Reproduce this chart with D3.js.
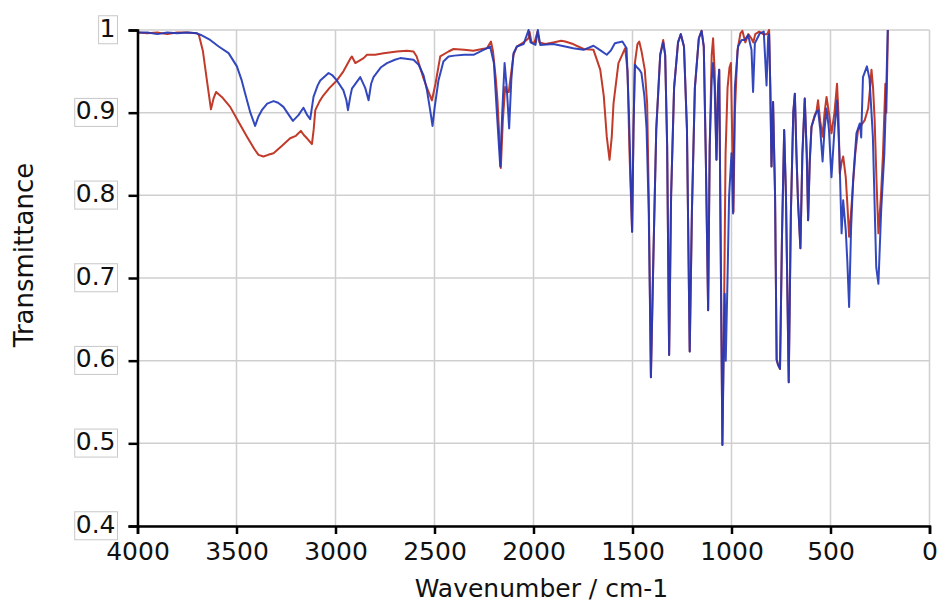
<!DOCTYPE html>
<html lang="en">
  <head>
    <meta charset="utf-8">
    <title>IR spectrum</title>
    <script src="https://d3js.org/d3.v7.min.js"></script>
    <style>
      body { margin: 0; background: #fff; }
      text { font-family: "DejaVu Sans", sans-serif; fill: #111; }
    </style>
  </head>
  <body>
    <script>
      var width = 942;
      var height = 606;
      var margin = {top: 30, left: 137.5, right: 12.5, bottom: 80};

      var xTicks = [4000, 3500, 3000, 2500, 2000, 1500, 1000, 500, 0];
      var yTicks = [0.4, 0.5, 0.6, 0.7, 0.8, 0.9, 1];

      // [wavenumber, transmittance]
      var redSpectrum = [
        [4000,0.997],[3950,0.996],[3900,0.997],[3850,0.995],[3800,0.997],[3750,0.997],[3700,0.996],
        [3690,0.994],[3670,0.975],[3650,0.94],[3629,0.904],[3615,0.918],[3603,0.925],[3570,0.918],
        [3532,0.907],[3490,0.889],[3447,0.871],[3410,0.856],[3389,0.849],[3364,0.847],[3340,0.849],
        [3313,0.851],[3270,0.860],[3229,0.869],[3200,0.872],[3175,0.878],[3160,0.873],[3144,0.869],
        [3119,0.862],[3110,0.880],[3102,0.903],[3080,0.914],[3061,0.921],[3030,0.930],[2993,0.939],
        [2960,0.950],[2926,0.965],[2917,0.968],[2900,0.960],[2858,0.966],[2841,0.970],[2800,0.970],
        [2757,0.972],[2690,0.974],[2640,0.975],[2606,0.974],[2590,0.968],[2555,0.941],[2530,0.925],
        [2513,0.915],[2495,0.935],[2471,0.968],[2429,0.974],[2404,0.977],[2350,0.976],[2303,0.975],
        [2260,0.977],[2235,0.978],[2215,0.986],[2205,0.975],[2190,0.940],[2182,0.915],[2165,0.833],
        [2155,0.890],[2143,0.931],[2135,0.925],[2125,0.925],[2101,0.970],[2084,0.980],[2050,0.985],
        [2025,0.990],[2020,0.998],[2010,0.985],[1995,0.985],[1980,0.998],[1970,0.985],[1940,0.983],
        [1900,0.985],[1860,0.987],[1840,0.986],[1800,0.983],[1747,0.977],[1697,0.976],[1663,0.952],
        [1645,0.920],[1630,0.871],[1616,0.843],[1605,0.870],[1596,0.911],[1571,0.960],[1537,0.978],
        [1525,0.950],[1515,0.850],[1502,0.756],[1495,0.880],[1488,0.960],[1475,0.983],[1466,0.986],
        [1455,0.975],[1438,0.952],[1426,0.911],[1418,0.800],[1407,0.580],[1395,0.720],[1380,0.880],
        [1360,0.970],[1345,0.988],[1335,0.970],[1325,0.860],[1315,0.607],[1305,0.800],[1290,0.930],
        [1270,0.985],[1256,0.995],[1240,0.980],[1225,0.880],[1211,0.611],[1200,0.780],[1185,0.930],
        [1165,0.990],[1151,0.999],[1140,0.980],[1130,0.850],[1118,0.661],[1110,0.860],[1100,0.970],
        [1093,0.990],[1085,0.950],[1076,0.843],[1068,0.930],[1062,0.952],[1055,0.750],[1046,0.498],
        [1038,0.650],[1030,0.850],[1020,0.930],[1010,0.955],[1003,0.960],[995,0.850],[990,0.780],
        [983,0.900],[970,0.975],[955,0.996],[945,0.999],[930,0.985],[915,0.995],[900,0.990],
        [890,0.985],[880,0.995],[860,0.998],[840,0.995],[820,0.995],[810,1.0],[804,0.930],
        [798,0.835],[790,0.913],[780,0.800],[772,0.601],[765,0.595],[755,0.590],[745,0.750],
        [734,0.879],[725,0.800],[711,0.574],[700,0.780],[688,0.900],[680,0.923],[672,0.850],
        [664,0.792],[652,0.736],[642,0.850],[630,0.917],[620,0.850],[613,0.770],[605,0.840],
        [596,0.883],[580,0.897],[571,0.901],[563,0.915],[552,0.890],[540,0.871],[530,0.900],
        [520,0.919],[508,0.900],[495,0.875],[480,0.900],[467,0.935],[460,0.900],[453,0.826],
        [444,0.840],[436,0.847],[423,0.822],[415,0.790],[406,0.750],[396,0.780],[386,0.814],
        [375,0.850],[361,0.879],[345,0.885],[327,0.891],[310,0.905],[300,0.930],[293,0.952],
        [285,0.930],[277,0.891],[268,0.820],[258,0.754],[245,0.800],[235,0.850],[223,0.935],
        [218,0.900],[213,0.960],[210,1.0]
      ];

      var blueSpectrum = [
        [4000,0.997],[3950,0.997],[3900,0.995],[3850,0.997],[3800,0.996],[3750,0.997],[3700,0.996],
        [3680,0.994],[3633,0.988],[3590,0.980],[3540,0.972],[3498,0.956],[3475,0.940],[3456,0.923],
        [3430,0.900],[3406,0.884],[3390,0.895],[3372,0.903],[3345,0.911],[3313,0.914],[3290,0.912],
        [3263,0.907],[3235,0.897],[3215,0.890],[3187,0.897],[3162,0.906],[3145,0.898],[3128,0.892],
        [3111,0.919],[3090,0.933],[3077,0.939],[3035,0.948],[3015,0.945],[2993,0.939],[2960,0.927],
        [2945,0.915],[2937,0.903],[2925,0.920],[2917,0.929],[2875,0.943],[2850,0.930],[2833,0.915],
        [2820,0.935],[2808,0.943],[2770,0.955],[2740,0.960],[2700,0.964],[2673,0.966],[2606,0.964],
        [2580,0.958],[2555,0.945],[2538,0.927],[2520,0.900],[2510,0.884],[2500,0.905],[2480,0.939],
        [2455,0.962],[2429,0.968],[2400,0.969],[2350,0.970],[2303,0.970],[2260,0.975],[2219,0.980],
        [2200,0.960],[2185,0.900],[2168,0.835],[2158,0.900],[2146,0.960],[2135,0.930],[2123,0.881],
        [2112,0.940],[2101,0.972],[2084,0.980],[2050,0.983],[2025,1.0],[2015,0.985],[1990,0.982],
        [1978,1.0],[1966,0.982],[1900,0.983],[1840,0.980],[1800,0.978],[1747,0.976],[1697,0.981],
        [1660,0.975],[1630,0.970],[1610,0.975],[1589,0.984],[1551,0.986],[1530,0.978],[1518,0.900],
        [1502,0.756],[1495,0.880],[1488,0.958],[1478,0.955],[1465,0.952],[1455,0.948],[1440,0.920],
        [1429,0.881],[1418,0.780],[1407,0.580],[1395,0.720],[1380,0.880],[1360,0.970],[1345,0.985],
        [1335,0.970],[1325,0.860],[1315,0.607],[1305,0.800],[1290,0.930],[1270,0.985],[1256,0.995],
        [1240,0.980],[1225,0.880],[1211,0.611],[1200,0.780],[1185,0.930],[1165,0.990],[1151,0.999],
        [1140,0.980],[1130,0.850],[1118,0.661],[1110,0.860],[1100,0.940],[1093,0.960],[1085,0.930],
        [1076,0.843],[1068,0.930],[1062,0.952],[1055,0.750],[1046,0.498],[1040,0.600],[1034,0.681],
        [1029,0.600],[1020,0.700],[1012,0.800],[1000,0.851],[992,0.778],[983,0.931],[967,0.980],
        [949,0.988],[933,0.988],[916,0.994],[899,0.976],[891,0.925],[882,0.984],[857,0.996],
        [837,0.998],[823,0.933],[815,0.992],[810,0.995],[804,0.930],[798,0.835],[790,0.913],
        [780,0.800],[772,0.601],[765,0.595],[755,0.590],[745,0.750],[734,0.879],[725,0.800],
        [711,0.574],[700,0.780],[688,0.900],[680,0.923],[672,0.850],[664,0.792],[652,0.736],
        [642,0.850],[630,0.917],[620,0.850],[613,0.770],[605,0.840],[596,0.883],[580,0.895],
        [571,0.901],[563,0.903],[552,0.880],[540,0.841],[530,0.880],[520,0.905],[508,0.880],
        [495,0.822],[480,0.880],[467,0.915],[455,0.850],[444,0.754],[436,0.794],[423,0.758],
        [415,0.720],[406,0.665],[396,0.760],[386,0.818],[369,0.875],[352,0.887],[345,0.870],
        [336,0.943],[316,0.956],[303,0.941],[286,0.871],[269,0.713],[258,0.693],[244,0.782],
        [228,0.851],[218,0.930],[211,1.0]
      ];

      var svg = d3.select("body")
        .append("svg")
        .attr("width", width)
        .attr("height", height);

      var x = d3.scaleLinear()
        .domain([4000, 0])
        .range([margin.left, width - margin.right]);

      var y = d3.scaleLinear()
        .domain([0.4, 1])
        .range([height - margin.bottom, margin.top]);

      // grid
      svg.append("g")
        .selectAll("line")
        .data(xTicks)
        .enter()
        .append("line")
          .attr("x1", d => x(d)).attr("x2", d => x(d))
          .attr("y1", margin.top).attr("y2", height - margin.bottom)
          .attr("stroke", "#cfcfcf").attr("stroke-width", 1.5);

      svg.append("g")
        .selectAll("line")
        .data(yTicks)
        .enter()
        .append("line")
          .attr("x1", margin.left).attr("x2", width - margin.right)
          .attr("y1", d => y(d)).attr("y2", d => y(d))
          .attr("stroke", "#cfcfcf").attr("stroke-width", 1.5);

      svg.append("clipPath").attr("id", "plot")
        .append("rect")
          .attr("x", margin.left).attr("y", margin.top - 1)
          .attr("width", width - margin.left - margin.right)
          .attr("height", height - margin.top - margin.bottom + 1);

      var line = d3.line()
        .x(d => x(d[0]))
        .y(d => y(d[1]));

      var curves = svg.append("g").attr("clip-path", "url(#plot)");
      curves.append("path")
        .datum(redSpectrum)
        .attr("d", line)
        .attr("fill", "none")
        .attr("stroke", "#c23a2a")
        .attr("stroke-width", 2)
        .attr("stroke-linejoin", "round");
      curves.append("path")
        .datum(blueSpectrum)
        .attr("d", line)
        .attr("fill", "none")
        .attr("stroke", "#2338b8")
        .attr("stroke-width", 2)
        .attr("stroke-opacity", 0.92)
        .attr("stroke-linejoin", "round");

      // axes
      var xAxis = svg.append("g")
        .attr("transform", `translate(0,${height - margin.bottom})`)
        .call(d3.axisBottom(x).tickValues(xTicks).tickSize(8).tickPadding(8).tickFormat(d3.format("d")));
      xAxis.select(".domain").attr("stroke", "#000").attr("stroke-width", 2.5);
      xAxis.selectAll(".tick line").attr("stroke", "#000").attr("stroke-width", 2.5);
      xAxis.selectAll(".tick text")
        .attr("font-size", 25)
        .style("font-family", "'DejaVu Sans', sans-serif")
        .attr("fill", "#111");

      var yAxis = svg.append("g")
        .attr("transform", `translate(${margin.left},0)`)
        .call(d3.axisLeft(y).tickValues(yTicks).tickSize(9).tickPadding(13).tickFormat(d3.format("")));
      yAxis.select(".domain").attr("stroke", "#000").attr("stroke-width", 2.5);
      yAxis.selectAll(".tick line").attr("stroke", "#000").attr("stroke-width", 2.5);
      yAxis.selectAll(".tick text")
        .attr("font-size", 25)
        .attr("dy", "0.25em")
        .style("font-family", "'DejaVu Sans', sans-serif")
        .attr("fill", "#111");

      // boxes round the y tick labels
      yAxis.selectAll(".tick").each(function() {
        var t = d3.select(this).select("text");
        var b = t.node().getBBox();
        d3.select(this).insert("rect", "text")
          .attr("x", b.x - 1).attr("y", b.y + 2)
          .attr("width", b.width + 3).attr("height", b.height - 1)
          .attr("fill", "#fff")
          .attr("stroke", "#c8c8c8")
          .attr("stroke-width", 1);
      });

      svg.append("text")
        .attr("x", (margin.left + width - margin.right) / 2 + 8)
        .attr("y", 597)
        .attr("text-anchor", "middle")
        .attr("font-size", 25)
        .text("Wavenumber / cm-1");

      svg.append("text")
        .attr("transform", "translate(33,255) rotate(-90)")
        .attr("text-anchor", "middle")
        .attr("font-size", 26)
        .text("Transmittance");
    </script>
  </body>
</html>
